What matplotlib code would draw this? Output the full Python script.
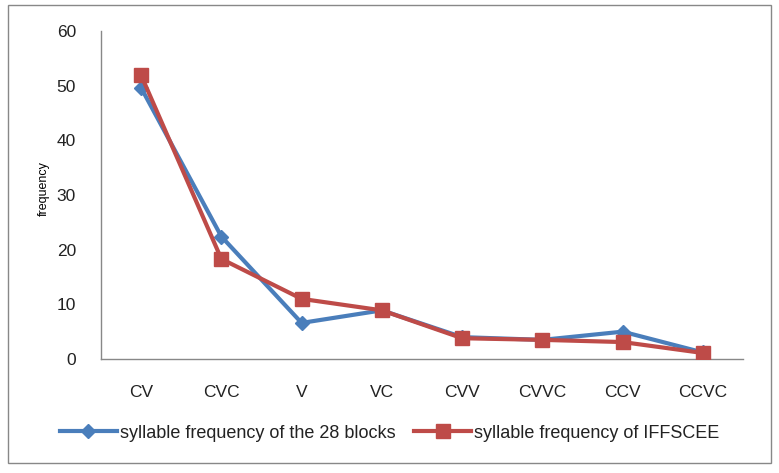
import matplotlib
matplotlib.use("Agg")
import matplotlib.pyplot as plt
from matplotlib.patches import Rectangle

categories = ["CV", "CVC", "V", "VC", "CVV", "CVVC", "CCV", "CCVC"]
blocks28 = [49.6, 22.4, 6.6, 8.9, 4.0, 3.5, 5.0, 1.2]
iffscee = [51.9, 18.3, 11.0, 8.9, 3.8, 3.5, 3.1, 1.1]
yticks = [0, 10, 20, 30, 40, 50, 60]

plt.rcParams['font.family'] = ['Liberation Sans', 'DejaVu Sans']

W, H = 779, 473
fig = plt.figure(figsize=(W/100, H/100), dpi=100)
ax = fig.add_axes([101/W, 1-359/H, 642/W, 328/H])

x = list(range(len(categories)))
ax.plot(x, blocks28, color="#4A7EBB", lw=3, marker="D", ms=7,
        label="syllable frequency of the 28 blocks", zorder=3)
ax.plot(x, iffscee, color="#BE4B48", lw=3, marker="s", ms=10,
        label="syllable frequency of IFFSCEE", zorder=4)

ax.set_xlim(-0.5, len(categories)-0.5)
ax.set_ylim(0, 60)
ax.set_yticks(yticks)
ax.set_xticks(x)
ax.set_xticklabels(categories, fontsize=12.5)
ax.tick_params(axis='y', labelsize=12.5, length=0, pad=18, labelcolor="#222222")
ax.tick_params(axis='x', length=0, pad=19, labelcolor="#222222")
for s in ["top", "right"]:
    ax.spines[s].set_visible(False)
for s in ["left", "bottom"]:
    ax.spines[s].set_color("#888888")
    ax.spines[s].set_linewidth(1)
ax.set_ylabel("frequency", fontsize=9)
ax.yaxis.set_label_coords((50 - 101) / 642, 0.52)

fig.legend(loc="center", bbox_to_anchor=(0.5, 1-433/H), ncol=2, frameon=False,
           fontsize=13, handlelength=3.2, columnspacing=1.0, handletextpad=0.15,
           labelcolor="#222222")

fig.patches.append(Rectangle((8/W, 1-463/H), 763/W, 458/H, transform=fig.transFigure,
                             fill=False, edgecolor="#888888", lw=1))
fig.savefig("out.png", dpi=100)
